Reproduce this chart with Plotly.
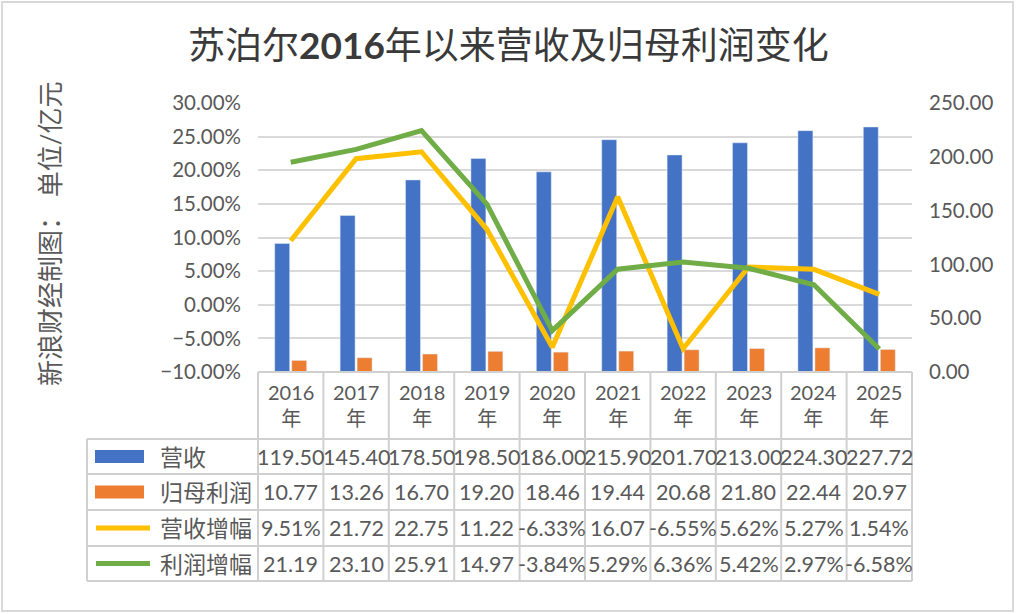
import plotly.graph_objects as go

# ---------------- data ----------------
years = ["2016", "2017", "2018", "2019", "2020", "2021", "2022", "2023", "2024", "2025"]
revenue = [119.50, 145.40, 178.50, 198.50, 186.00, 215.90, 201.70, 213.00, 224.30, 227.72]
profit = [10.77, 13.26, 16.70, 19.20, 18.46, 19.44, 20.68, 21.80, 22.44, 20.97]
rev_growth = [9.51, 21.72, 22.75, 11.22, -6.33, 16.07, -6.55, 5.62, 5.27, 1.54]
profit_growth = [21.19, 23.10, 25.91, 14.97, -3.84, 5.29, 6.36, 5.42, 2.97, -6.58]
series_names = ["营收", "归母利润", "营收增幅", "利润增幅"]

title_text = "苏泊尔<b>2016</b>年以来营收及归母利润变化"
ytitle_text = "新浪财经制图： 单位/亿元"

# ---------------- style ----------------
BLUE, ORANGE, YELLOW, GREEN = "#4472C4", "#ED7D31", "#FFC000", "#70AD47"
TXT = "#595959"
GRID = "#d9d9d9"
TLINE = "#d0d0d0"
FONT = "Lato, 'Noto Sans CJK SC', sans-serif"

W, H = 1016, 614
PL, PR, PT, PB = 258, 912, 103, 372


def px(x):
    return (x - PL) / (PR - PL)


def py(y):
    return (PB - y) / (PB - PT)


def pct_label(v):
    s = f"{v:.2f}%"
    if v >= 10:  # cell too narrow in source: '%' dropped
        s = s[:-1]
    return s


fig = go.Figure()

fig.add_trace(go.Bar(x=years, y=revenue, name=series_names[0], marker_color=BLUE,
                     yaxis="y", offsetgroup="a"))
fig.add_trace(go.Bar(x=years, y=profit, name=series_names[1], marker_color=ORANGE,
                     yaxis="y", offsetgroup="b"))
fig.add_trace(go.Scatter(x=years, y=rev_growth, name=series_names[2], mode="lines",
                         line=dict(color=YELLOW, width=5), yaxis="y2"))
fig.add_trace(go.Scatter(x=years, y=profit_growth, name=series_names[3], mode="lines",
                         line=dict(color=GREEN, width=5), yaxis="y2"))

shapes = []
annotations = []

# outer frame
shapes.append(dict(type="rect", xref="paper", yref="paper",
                   x0=px(2), x1=px(1013), y0=py(611), y1=py(2),
                   line=dict(color=GRID, width=2), fillcolor="rgba(0,0,0,0)", layer="below"))

# table geometry
n = len(years)
row_edges = [439, 474, 510, 546, 581]
TL = 87
for k in range(n + 1):
    shapes.append(dict(type="line", xref="paper", yref="paper",
                       x0=k / n, x1=k / n, y0=py(PB), y1=py(row_edges[-1]),
                       line=dict(color=TLINE, width=2)))
shapes.append(dict(type="line", xref="paper", yref="paper",
                   x0=px(TL), x1=px(TL), y0=py(row_edges[0]), y1=py(row_edges[-1]),
                   line=dict(color=TLINE, width=2)))
shapes.append(dict(type="line", xref="paper", yref="paper",
                   x0=0, x1=1, y0=py(PB), y1=py(PB), line=dict(color=TLINE, width=2)))
for ry in row_edges:
    shapes.append(dict(type="line", xref="paper", yref="paper",
                       x0=px(TL), x1=1, y0=py(ry), y1=py(ry), line=dict(color=TLINE, width=2)))

# header labels (category index positions on the x axis)
for i, yr in enumerate(years):
    annotations.append(dict(x=i, xref="x", y=py(405), yref="paper", text=f"{yr}<br>年",
                            showarrow=False, font=dict(size=20, color=TXT, family=FONT),
                            xanchor="center", yanchor="middle"))

rows = [
    [f"{v:.2f}" for v in revenue],
    [f"{v:.2f}" for v in profit],
    [pct_label(v) for v in rev_growth],
    [pct_label(v) for v in profit_growth],
]
row_colors = [BLUE, ORANGE, YELLOW, GREEN]
for r in range(4):
    cy = (row_edges[r] + row_edges[r + 1]) / 2
    for i, t in enumerate(rows[r]):
        annotations.append(dict(x=i, xref="x", y=py(cy), yref="paper", text=t,
                                showarrow=False, font=dict(size=21.5, color=TXT, family=FONT),
                                xanchor="center", yanchor="middle"))
    if r < 2:
        shapes.append(dict(type="rect", xref="paper", yref="paper",
                           x0=px(95), x1=px(144), y0=py(cy + 6.5), y1=py(cy - 6.5),
                           fillcolor=row_colors[r], line=dict(width=0)))
    else:
        shapes.append(dict(type="line", xref="paper", yref="paper",
                           x0=px(96), x1=px(150), y0=py(cy), y1=py(cy),
                           line=dict(color=row_colors[r], width=5)))
    annotations.append(dict(x=px(158), xref="paper", y=py(cy), yref="paper",
                            text=series_names[r], showarrow=False,
                            font=dict(size=23, color=TXT, family=FONT),
                            xanchor="left", yanchor="middle"))

# title
annotations.append(dict(x=px(508), xref="paper", y=py(44), yref="paper", text=title_text,
                        showarrow=False, font=dict(size=37, color="#3a3a3a", family=FONT),
                        xanchor="center", yanchor="middle"))
# vertical axis note
annotations.append(dict(x=px(50), xref="paper", y=py(234), yref="paper", text=ytitle_text,
                        showarrow=False, textangle=-90,
                        font=dict(size=26, color=TXT, family=FONT),
                        xanchor="center", yanchor="middle"))

fig.update_layout(
    width=W, height=H, autosize=False,
    margin=dict(l=PL, r=W - PR, t=PT, b=H - PB, pad=0),
    paper_bgcolor="white", plot_bgcolor="white",
    showlegend=False,
    barmode="group", bargap=0.48, bargroupgap=0.12,
    font=dict(family=FONT, color=TXT, size=20),
    xaxis=dict(type="category", showticklabels=False, showgrid=False, zeroline=False,
               showline=False, ticks="", range=[-0.5, n - 0.5]),
    yaxis=dict(side="right", range=[0, 250], dtick=50, tickformat=".2f",
               showgrid=False, zeroline=False, showline=False, ticks="",
               ticklabelstandoff=16, tickfont=dict(size=20.5, color=TXT)),
    yaxis2=dict(overlaying="y", side="left", range=[-10, 30], dtick=5,
                tickformat=".2f", ticksuffix="%", showgrid=True, gridcolor=GRID,
                gridwidth=1.5, zeroline=False, showline=False, ticks="",
                ticklabelstandoff=16, tickfont=dict(size=20.5, color=TXT)),
    shapes=shapes, annotations=annotations,
)

fig.write_html("out.html", config={"displayModeBar": False},
               post_script="document.body.style.margin='0';")
